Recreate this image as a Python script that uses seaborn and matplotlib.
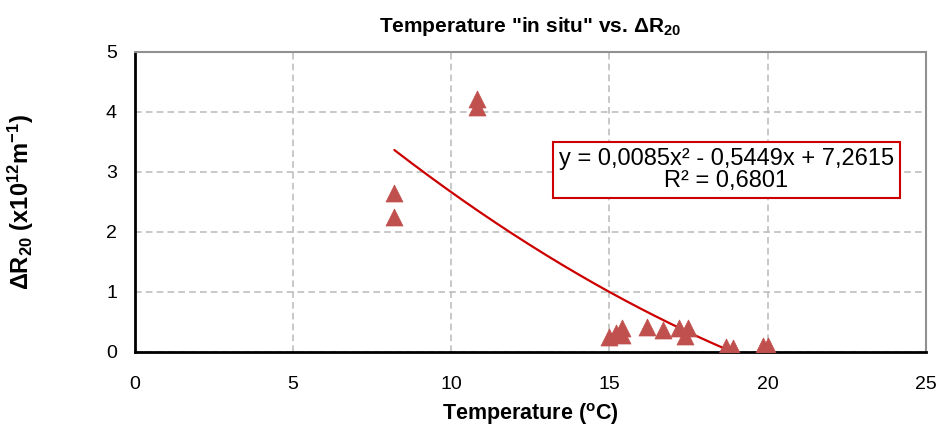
#!/usr/bin/env python3
"""Scatter of in-situ temperature vs. delta R20 with a 2nd order trend line."""

import numpy as np
import pandas as pd
import matplotlib
matplotlib.use("Agg")
import matplotlib.pyplot as plt
import seaborn as sns

temperature = [8.2, 8.2, 10.8, 10.8, 15.0, 15.2, 15.4, 15.4, 16.2, 16.7,
               17.2, 17.5, 17.4, 18.7, 18.9, 19.85, 20.0]
delta_r20 = [2.65, 2.25, 4.22, 4.08, 0.25, 0.32, 0.40, 0.28, 0.42, 0.37,
             0.40, 0.40, 0.26, 0.09, 0.07, 0.10, 0.10]

# Excel polynomial trend line (order 2)
poly_coef = [0.0085, -0.5449, 7.2615]
r_squared = "0,6801"
trend_label = "y = 0,0085x² - 0,5449x + 7,2615\nR² = " + r_squared

x_ticks = [0, 5, 10, 15, 20, 25]
y_ticks = [0, 1, 2, 3, 4, 5]

sns.set_style("white")
plt.rcParams["font.family"] = ["Liberation Sans", "DejaVu Sans"]
plt.rcParams["mathtext.fontset"] = "custom"
plt.rcParams["mathtext.rm"] = "Liberation Sans"
plt.rcParams["mathtext.bf"] = "Liberation Sans:bold"
plt.rcParams["mathtext.it"] = "Liberation Sans:italic"
plt.rcParams["text.color"] = "black"
plt.rcParams["axes.labelcolor"] = "black"
plt.rcParams["xtick.color"] = "black"
plt.rcParams["ytick.color"] = "black"

df = pd.DataFrame({"temp": temperature, "dr20": delta_r20})

fig = plt.figure(figsize=(9.39, 4.30), dpi=100)
ax = fig.add_axes([0.1438, 0.1814, 0.842, 0.698])

xs = np.linspace(min(temperature), max(temperature), 200)
ys = np.polyval(poly_coef, xs)
sns.lineplot(x=xs, y=ys, ax=ax, color="#CC0000", linewidth=1.6, zorder=2)

sns.scatterplot(data=df, x="temp", y="dr20", ax=ax, marker="^", s=150,
                color="#C0504D", edgecolor="#C0504D", linewidth=0.5, zorder=3)

ax.set_xlim(0, 25)
ax.set_ylim(0, 5)
ax.set_xticks(x_ticks)
ax.set_yticks(y_ticks)
ax.tick_params(axis="both", labelsize=14, direction="out", length=5,
               width=1.2, color="black", pad=8)
ax.tick_params(axis="x", pad=12)

ax.grid(True, color="#BFBFBF", linestyle=(0, (4, 2.5)), linewidth=1.2)
ax.set_axisbelow(True)

for side in ["top", "right"]:
    ax.spines[side].set_color("#909090")
    ax.spines[side].set_linewidth(1.5)
for side in ["left", "bottom"]:
    ax.spines[side].set_color("black")
    ax.spines[side].set_linewidth(2)

ax.set_xlabel(r"Temperature ($\mathbf{^{o}}$C)", fontsize=15.5, fontweight="bold")
ax.xaxis.set_label_coords(0.5, -0.165)
ax.set_ylabel(r"$\mathbf{\Delta R_{20}}$ (x10$\mathbf{^{12}}$m$\mathbf{^{-1}}$)",
              fontsize=17, fontweight="bold")
ax.yaxis.set_label_coords(-0.125, 0.5)
ax.set_title(r'Temperature "in situ" vs. $\mathbf{\Delta R_{20}}$',
             fontsize=15, fontweight="bold", pad=14)

ax.text(18.7, 3.03, trend_label, fontsize=17, ha="center", va="center",
        linespacing=1.0, zorder=4,
        bbox=dict(boxstyle="square,pad=0.25", facecolor="white",
                  edgecolor="#CC0000", linewidth=1.5))

fig.savefig("out.png", dpi=100)
